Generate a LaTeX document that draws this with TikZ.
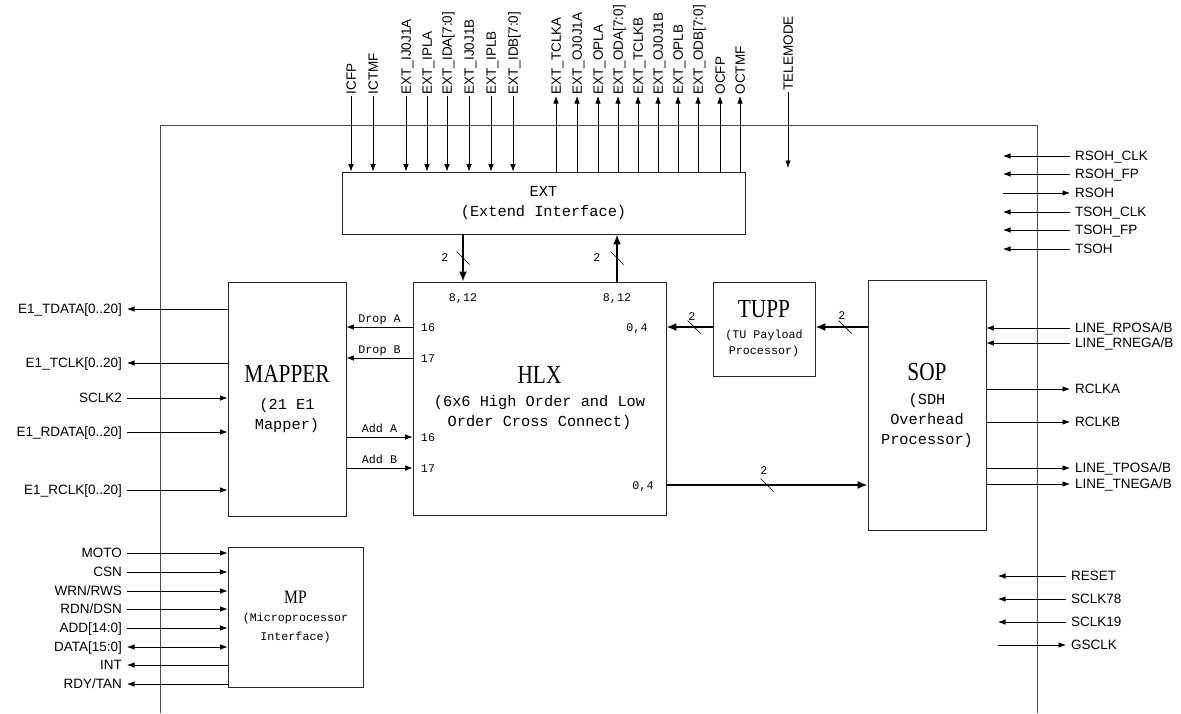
\documentclass[tikz,border=0pt]{standalone}
\usepackage{fontspec}
\usetikzlibrary{arrows.meta}
\newfontfamily\sigfont{Liberation Sans}
\newfontfamily\boxmono{Liberation Mono}
\newfontfamily\boxserif[FakeStretch=0.82]{Liberation Serif}
\newcommand{\sigsize}{\sigfont\fontsize{13.5}{16}\selectfont}
\newcommand{\bigsub}{\boxmono\fontsize{15.3}{20}\selectfont}
\newcommand{\smallsub}{\boxmono\fontsize{11.7}{16}\selectfont}
\newcommand{\bigttl}{\boxserif\fontsize{26}{28}\selectfont}
\newcommand{\midttl}{\boxserif\fontsize{19}{21}\selectfont}
\newcommand{\busmark}[1]{\draw[line width=0.7pt] ([shift={(-6.5,-6.5)}]#1) -- ([shift={(6.5,6.5)}]#1);}

\begin{document}
\begin{tikzpicture}[x=1pt, y=-1pt,
  sig/.style={font=\sigsize, inner sep=0pt, inner xsep=5pt, text height=9.7pt, text depth=0pt},
  topsig/.style={sig, rotate=90, anchor=west, inner xsep=1.5pt},
  blk/.style={draw=black!85, line width=0.8pt, inner sep=0pt, align=center, font=\bigsub},
  port/.style={font=\smallsub, inner sep=0pt, text height=8pt, text depth=0pt},
  wire/.style={line width=0.7pt, -{Latex[length=7.5pt,width=5.5pt]}},
  wire2/.style={line width=0.7pt, {Latex[length=7.5pt,width=5.5pt]}-{Latex[length=7.5pt,width=5.5pt]}},
  bus/.style={line width=1.8pt, -{Latex[length=10pt,width=8pt]}}]
\useasboundingbox (0,0) rectangle (1181,713);

% chip outline
\draw[black!70, line width=0.8pt] (160,713) -- (160,125) -- (1037,125) -- (1037,713);

% blocks
\node[blk, minimum width=403pt, minimum height=62pt] (ext) at (543.5,203) {EXT\\(Extend Interface)};
\node[blk, minimum width=118pt, minimum height=234pt] (map) at (287,399) {{\bigttl MAPPER}\\[7pt](21 E1\\Mapper)};
\node[blk, minimum width=253pt, minimum height=233pt] (hlx) at (539.5,398.5) {{\bigttl HLX}\\[3pt](6x6 High Order and Low\\Order Cross Connect)};
\node[blk, font=\smallsub, minimum width=102pt, minimum height=94pt] (tupp) at (764,329) {{\bigttl TUPP}\\[5pt](TU Payload\\Processor)};
\node[blk, minimum width=118pt, minimum height=250pt] (sop) at (927,405.5) {{\bigttl SOP}\\[4pt](SDH\\Overhead\\Processor)};
\node[blk, font=\smallsub, minimum width=135pt, minimum height=140pt] (mp) at (295.5,617) {{\midttl MP}\\[2pt](Microprocessor\\[3pt]Interface)};

% HLX ports
\node[port] (pda) at (428,327) {16};
\node[port] (pdb) at (428,358) {17};
\node[port] (paa) at (428,437) {16};
\node[port] (pab) at (428,468) {17};
\node[port] (pin) at (463,297) {8,12};
\node[port] (pout) at (617,297) {8,12};
\node[port] (ptu) at (637,327) {0,4};
\node[port] (pso) at (643,485) {0,4};

% drop / add
\draw[wire] (hlx.west |- pda) -- node[port, above=4pt] {Drop A} (map.east |- pda);
\draw[wire] (hlx.west |- pdb) -- node[port, above=4pt] {Drop B} (map.east |- pdb);
\draw[wire] (map.east |- paa) -- node[port, above=4pt] {Add A} (hlx.west |- paa);
\draw[wire] (map.east |- pab) -- node[port, above=4pt] {Add B} (hlx.west |- pab);

% buses
\draw[bus] (ext.south -| pin) -- coordinate[midway] (m1) (hlx.north -| pin);
\draw[bus] (hlx.north -| pout) -- coordinate[midway] (m2) (ext.south -| pout);
\draw[bus] (tupp.west |- ptu) -- coordinate[pos=.4] (m3) (hlx.east |- ptu);
\draw[bus] (sop.west |- ptu) -- coordinate[pos=.43] (m4) (tupp.east |- ptu);
\draw[bus] (hlx.east |- pso) -- coordinate[pos=.5] (m5) (sop.west |- pso);
\busmark{m1} \busmark{m2} \busmark{m3} \busmark{m4} \busmark{m5}
\node[port] (w1) at (445,257) {2};
\node[port] (w2) at (597,257) {2};
\node[port] (w3) at (692,316) {2};
\node[port] (w4) at (842,315) {2};
\node[port] (w5) at (764,470) {2};

% EXT inputs
\node[topsig] (icfp) at (351,96) {ICFP};
\node[topsig] (ictmf) at (373,96) {ICTMF};
\node[topsig] (ija) at (406,96) {EXT\_IJ0J1A};
\node[topsig] (ipla) at (427,96) {EXT\_IPLA};
\node[topsig] (ida) at (447,96) {EXT\_IDA[7:0]};
\node[topsig] (ijb) at (469,96) {EXT\_IJ0J1B};
\node[topsig] (iplb) at (491,96) {EXT\_IPLB};
\node[topsig] (idb) at (513,96) {EXT\_IDB[7:0]};
\draw[wire] (icfp.west) -- (icfp.west |- ext.north);
\draw[wire] (ictmf.west) -- (ictmf.west |- ext.north);
\draw[wire] (ija.west) -- (ija.west |- ext.north);
\draw[wire] (ipla.west) -- (ipla.west |- ext.north);
\draw[wire] (ida.west) -- (ida.west |- ext.north);
\draw[wire] (ijb.west) -- (ijb.west |- ext.north);
\draw[wire] (iplb.west) -- (iplb.west |- ext.north);
\draw[wire] (idb.west) -- (idb.west |- ext.north);

% EXT outputs
\node[topsig] (tclka) at (556,96) {EXT\_TCLKA};
\node[topsig] (oja) at (577,96) {EXT\_OJ0J1A};
\node[topsig] (opla) at (598,96) {EXT\_OPLA};
\node[topsig] (oda) at (618,96) {EXT\_ODA[7:0]};
\node[topsig] (tclkb) at (638,96) {EXT\_TCLKB};
\node[topsig] (ojb) at (658,96) {EXT\_OJ0J1B};
\node[topsig] (oplb) at (678,96) {EXT\_OPLB};
\node[topsig] (odb) at (698,96) {EXT\_ODB[7:0]};
\node[topsig] (ocfp) at (720,96) {OCFP};
\node[topsig] (octmf) at (740,96) {OCTMF};
\draw[wire] (tclka.west |- ext.north) -- (tclka.west);
\draw[wire] (oja.west |- ext.north) -- (oja.west);
\draw[wire] (opla.west |- ext.north) -- (opla.west);
\draw[wire] (oda.west |- ext.north) -- (oda.west);
\draw[wire] (tclkb.west |- ext.north) -- (tclkb.west);
\draw[wire] (ojb.west |- ext.north) -- (ojb.west);
\draw[wire] (oplb.west |- ext.north) -- (oplb.west);
\draw[wire] (odb.west |- ext.north) -- (odb.west);
\draw[wire] (ocfp.west |- ext.north) -- (ocfp.west);
\draw[wire] (octmf.west |- ext.north) -- (octmf.west);

\node[topsig] (tele) at (788,92) {TELEMODE};
\coordinate (telend) at (788,168);
\draw[wire] (tele.west) -- (telend);

% mapper side
\node[sig, anchor=east] (e1td) at (127,309) {E1\_TDATA[0..20]};
\node[sig, anchor=east] (e1tc) at (127,363) {E1\_TCLK[0..20]};
\node[sig, anchor=east] (sclk2) at (127,398) {SCLK2};
\node[sig, anchor=east] (e1rd) at (127,432) {E1\_RDATA[0..20]};
\node[sig, anchor=east] (e1rc) at (127,490) {E1\_RCLK[0..20]};
\draw[wire] (map.west |- e1td) -- (e1td.east);
\draw[wire] (map.west |- e1tc) -- (e1tc.east);
\draw[wire] (sclk2.east) -- (map.west |- sclk2);
\draw[wire] (e1rd.east) -- (map.west |- e1rd);
\draw[wire] (e1rc.east) -- (map.west |- e1rc);

% microprocessor side
\node[sig, anchor=east] (moto) at (127,553) {MOTO};
\node[sig, anchor=east] (csn) at (127,572) {CSN};
\node[sig, anchor=east] (wrn) at (127,591) {WRN/RWS};
\node[sig, anchor=east] (rdn) at (127,609) {RDN/DSN};
\node[sig, anchor=east] (addr) at (127,628) {ADD[14:0]};
\node[sig, anchor=east] (data) at (127,647) {DATA[15:0]};
\node[sig, anchor=east] (intr) at (127,665) {INT};
\node[sig, anchor=east] (rdy) at (127,684) {RDY/TAN};
\draw[wire] (moto.east) -- (mp.west |- moto);
\draw[wire] (csn.east) -- (mp.west |- csn);
\draw[wire] (wrn.east) -- (mp.west |- wrn);
\draw[wire] (rdn.east) -- (mp.west |- rdn);
\draw[wire] (addr.east) -- (mp.west |- addr);
\draw[wire2] (data.east) -- (mp.west |- data);
\draw[wire] (mp.west |- intr) -- (intr.east);
\draw[wire] (mp.west |- rdy) -- (rdy.east);

% overhead
\coordinate (rin) at (1003,0);
\node[sig, anchor=west] (rsohclk) at (1070,156) {RSOH\_CLK};
\node[sig, anchor=west] (rsohfp) at (1070,174) {RSOH\_FP};
\node[sig, anchor=west] (rsoh) at (1070,193) {RSOH};
\node[sig, anchor=west] (tsohclk) at (1070,212) {TSOH\_CLK};
\node[sig, anchor=west] (tsohfp) at (1070,230) {TSOH\_FP};
\node[sig, anchor=west] (tsoh) at (1070,249) {TSOH};
\draw[wire] (rsohclk.west) -- (rin |- rsohclk);
\draw[wire] (rsohfp.west) -- (rin |- rsohfp);
\draw[wire] (rin |- rsoh) -- (rsoh.west);
\draw[wire] (tsohclk.west) -- (rin |- tsohclk);
\draw[wire] (tsohfp.west) -- (rin |- tsohfp);
\draw[wire] (tsoh.west) -- (rin |- tsoh);

% line side
\node[sig, anchor=west] (rpos) at (1070,328) {LINE\_RPOSA/B};
\node[sig, anchor=west] (rneg) at (1070,343) {LINE\_RNEGA/B};
\node[sig, anchor=west] (rclka) at (1070,389) {RCLKA};
\node[sig, anchor=west] (rclkb) at (1070,422) {RCLKB};
\node[sig, anchor=west] (tpos) at (1070,468) {LINE\_TPOSA/B};
\node[sig, anchor=west] (tneg) at (1070,484) {LINE\_TNEGA/B};
\draw[wire] (rpos.west) -- (sop.east |- rpos);
\draw[wire] (rneg.west) -- (sop.east |- rneg);
\draw[wire] (sop.east |- rclka) -- (rclka.west);
\draw[wire] (sop.east |- rclkb) -- (rclkb.west);
\draw[wire] (sop.east |- tpos) -- (tpos.west);
\draw[wire] (sop.east |- tneg) -- (tneg.west);

% clocks and reset
\coordinate (bin) at (998,0);
\node[sig, anchor=west] (reset) at (1066,576) {RESET};
\node[sig, anchor=west] (sclk78) at (1066,599) {SCLK78};
\node[sig, anchor=west] (sclk19) at (1066,622) {SCLK19};
\node[sig, anchor=west] (gsclk) at (1066,645) {GSCLK};
\draw[wire] (reset.west) -- (bin |- reset);
\draw[wire] (sclk78.west) -- (bin |- sclk78);
\draw[wire] (sclk19.west) -- (bin |- sclk19);
\draw[wire] (bin |- gsclk) -- (gsclk.west);
\end{tikzpicture}
\end{document}
